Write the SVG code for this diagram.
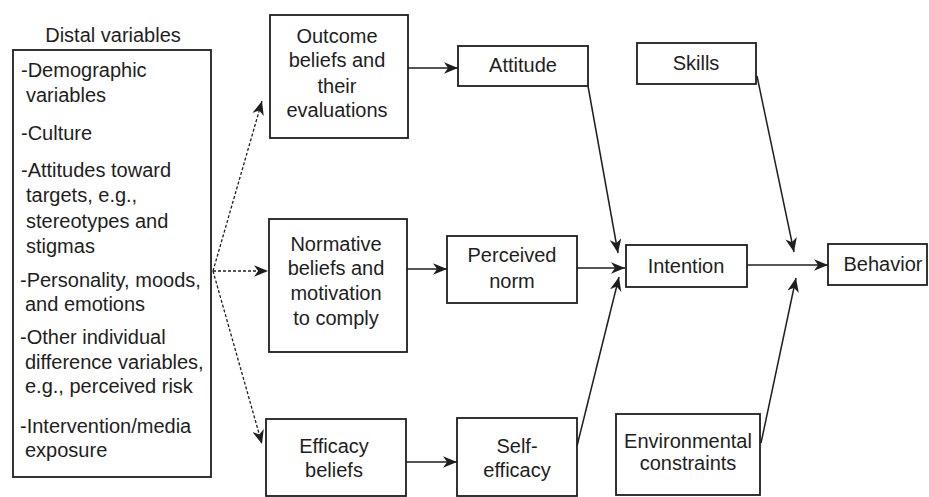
<svg xmlns="http://www.w3.org/2000/svg" width="929" height="497" viewBox="0 0 929 497">
<defs>
<style>
text{font-family:"Liberation Sans",Arial,Helvetica,sans-serif;font-size:20px;fill:#1e1e1e}
.c{text-anchor:middle}
.box{fill:#fff;stroke:#1e1e1e;stroke-width:1.8}
.ln{fill:none;stroke:#1e1e1e;stroke-width:1.5;marker-end:url(#ah)}
.dash{stroke-dasharray:3 2;stroke-width:1.3}
</style>
<marker id="ah" viewBox="0 0 12 10" refX="12" refY="5" markerWidth="14" markerHeight="12" markerUnits="userSpaceOnUse" orient="auto">
<path d="M0,0 L12,5 L0,10 L3.5,5 Z" fill="#1e1e1e"/>
</marker>
</defs>
<rect width="929" height="497" fill="#fff"/>

<g id="distal">
<text class="c" x="113" y="42">Distal variables</text>
<rect class="box" x="13" y="50" width="198" height="427"/>
<text x="21" y="77">-Demographic</text>
<text x="26" y="102">variables</text>
<text x="21" y="140">-Culture</text>
<text x="21" y="177">-Attitudes toward</text>
<text x="26" y="202">targets, e.g.,</text>
<text x="26" y="228">stereotypes and</text>
<text x="26" y="253">stigmas</text>
<text x="20" y="287">-Personality, moods,</text>
<text x="25" y="311">and emotions</text>
<text x="20" y="344">-Other individual</text>
<text x="25" y="369">difference variables,</text>
<text x="25" y="393">e.g., perceived risk</text>
<text x="20" y="433">-Intervention/media</text>
<text x="25" y="457">exposure</text>
</g>

<g id="outcome">
<rect class="box" x="270" y="15" width="138" height="123"/>
<text class="c" x="337" y="43">Outcome</text>
<text class="c" x="337" y="67">beliefs and</text>
<text class="c" x="337" y="93">their</text>
<text class="c" x="337" y="117">evaluations</text>
</g>

<g id="normative">
<rect class="box" x="269" y="219" width="138" height="133"/>
<text class="c" x="336" y="251">Normative</text>
<text class="c" x="336" y="275">beliefs and</text>
<text class="c" x="336" y="300">motivation</text>
<text class="c" x="336" y="325">to comply</text>
</g>

<g id="efficacy">
<rect class="box" x="266" y="419" width="140" height="77"/>
<text class="c" x="334" y="453">Efficacy</text>
<text class="c" x="334" y="477">beliefs</text>
</g>

<g id="attitude">
<rect class="box" x="458" y="46" width="130" height="40"/>
<text class="c" x="523" y="72">Attitude</text>
</g>

<g id="perceived-norm">
<rect class="box" x="447" y="236" width="130" height="67"/>
<text class="c" x="512" y="262">Perceived</text>
<text class="c" x="512" y="288">norm</text>
</g>

<g id="self-efficacy">
<rect class="box" x="457" y="418" width="120" height="78"/>
<text class="c" x="517" y="453">Self-</text>
<text class="c" x="517" y="477">efficacy</text>
</g>

<g id="skills">
<rect class="box" x="637" y="43" width="119" height="41"/>
<text class="c" x="696" y="70">Skills</text>
</g>

<g id="intention">
<rect class="box" x="626" y="245" width="121" height="42"/>
<text class="c" x="686" y="273">Intention</text>
</g>

<g id="environmental">
<rect class="box" x="616" y="414" width="144" height="81"/>
<text class="c" x="688" y="448">Environmental</text>
<text class="c" x="688" y="470">constraints</text>
</g>

<g id="behavior">
<rect class="box" x="828" y="244" width="99" height="41"/>
<text class="c" x="883" y="271">Behavior</text>
</g>

<g id="connectors">
<line class="ln dash" x1="213" y1="271" x2="262" y2="101"/>
<line class="ln dash" x1="213" y1="271" x2="268" y2="271"/>
<line class="ln dash" x1="213" y1="271" x2="262" y2="444"/>
<line class="ln" x1="408" y1="68" x2="458" y2="68"/>
<line class="ln" x1="407" y1="269" x2="447" y2="269"/>
<line class="ln" x1="406" y1="462" x2="457" y2="462"/>
<line class="ln" x1="588" y1="86" x2="618" y2="253"/>
<line class="ln" x1="577" y1="268" x2="625" y2="268"/>
<line class="ln" x1="577" y1="446" x2="619" y2="277"/>
<line class="ln" x1="747" y1="265" x2="828" y2="265"/>
<line class="ln" x1="757" y1="76" x2="794" y2="252"/>
<line class="ln" x1="761" y1="443" x2="796" y2="278"/>
</g>
</svg>
